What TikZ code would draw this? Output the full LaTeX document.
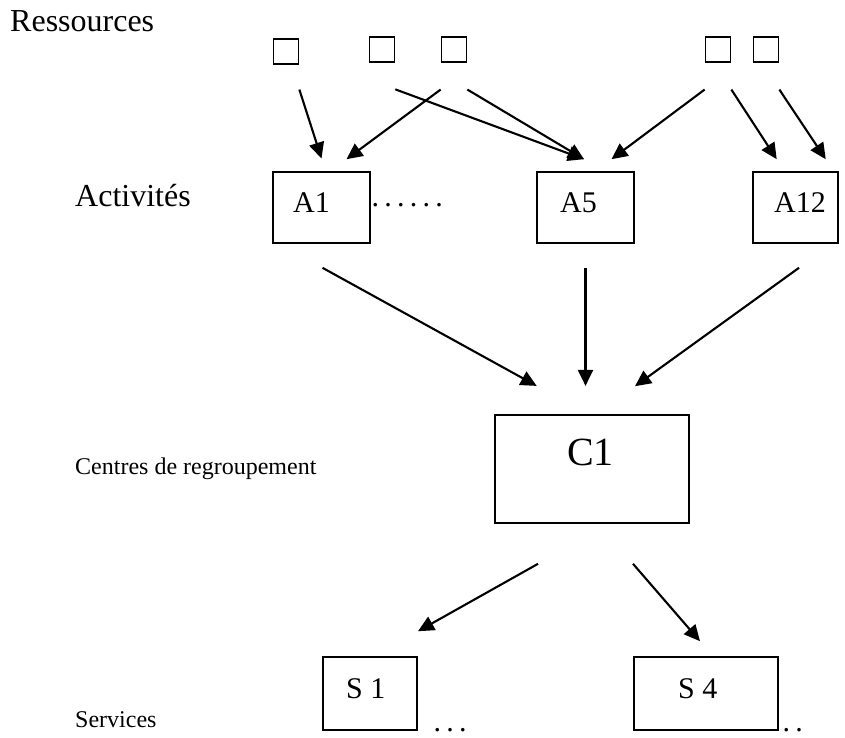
\documentclass[tikz,border=0pt]{standalone}
\usepackage{fontspec}
\setmainfont{Liberation Serif}
\usetikzlibrary{arrows.meta}
\newcommand\dotsgap{\kern5.3pt}
\begin{document}
\begin{tikzpicture}[x=1pt,y=-1pt,
  res/.style={draw,line width=1.7pt,minimum size=25pt,inner sep=0pt},
  box/.style={draw,line width=1.6pt,inner sep=0pt},
  txt/.style={inner sep=0pt,anchor=base west},
  big/.style={font=\fontsize{32}{38}\selectfont},
  mid/.style={font=\fontsize{30}{36}\selectfont},
  small/.style={font=\fontsize{24}{29}\selectfont},
  huge/.style={font=\fontsize{40}{48}\selectfont},
  flow/.style={line width=2.1pt,-{Triangle[length=16pt,width=15pt]}}
]
\useasboundingbox (0,0) rectangle (845,737);

% level captions
\node[txt,big]   (lres) at (10,31)    {Ressources};
\node[txt,big]   (lact) at (75,206.7) {Activités};
\node[txt,small] (lcen) at (75,474)   {Centres de regroupement};
\node[txt,small] (lser) at (75,727)   {Services};

% resources
\node[res] (r1) at (286,51.5) {};
\node[res] (r2) at (382,49.5) {};
\node[res] (r3) at (454,49.5) {};
\node[res] (r4) at (718,49.5) {};
\node[res] (r5) at (766,49.5) {};

% activities
\node[box,minimum width=97pt,minimum height=71pt] (A1)  at (321.5,207.5) {};
\node[box,minimum width=97pt,minimum height=71pt] (A5)  at (585.5,207.5) {};
\node[box,minimum width=85pt,minimum height=71pt] (A12) at (795.5,207.5) {};
\node[txt,mid] (A1t)  at (293,212) {A1};
\node[txt,mid] (A5t)  at (560,212) {A5};
\node[txt,mid] (A12t) at (774,212) {A12};
\node[txt,mid] (Adots) at (371.3,206) {.\dotsgap.\dotsgap.\dotsgap.\dotsgap.\dotsgap.};

% grouping centre
\node[box,minimum width=194pt,minimum height=108pt] (C1) at (592,469) {};
\node[txt,huge] (C1t) at (567,465) {C1};

% services
\node[box,minimum width=94pt,minimum height=73pt]  (S1) at (370,693.5) {};
\node[box,minimum width=144pt,minimum height=73pt] (S4) at (706,693.5) {};
\node[txt,mid] (S1t) at (346,698) {S 1};
\node[txt,mid] (S4t) at (678,698) {S 4};
\node[txt,mid] (S1d) at (433.3,731.5) {.\dotsgap.\dotsgap.};
\node[txt,mid] (S4d) at (782.3,731.5) {.\dotsgap.};

% resources -> activities
\draw[flow] ([yshift=-24.7]r1.south east) -- ([yshift=12.7]A1.north);
\draw[flow] ([yshift=-26.7]r3.south west) -- ([xshift=25,yshift=12]A1.north);
\draw[flow] ([yshift=-26.5]r2.south east) -- ([xshift=-1.5,yshift=12]A5.north);
\draw[flow] ([yshift=-26.7]r3.south east) -- ([xshift=-1.5,yshift=12]A5.north);
\draw[flow] ([yshift=-26.7]r4.south west) -- ([xshift=26,yshift=12]A5.north);
\draw[flow] ([yshift=-26.7]r4.south east) -- ([xshift=-18.8,yshift=12]A12.north);
\draw[flow] ([yshift=-26.7]r5.south east) -- ([xshift=30.2,yshift=12]A12.north);

% activities -> centre
\draw[flow] ([xshift=1,yshift=-24]A1.south)    -- ([xshift=-55.3,yshift=28.3]C1.north);
\draw[flow] ([yshift=-24]A5.south)             -- ([xshift=-6.5,yshift=28.3]C1.north);
\draw[flow] ([xshift=3.5,yshift=-24]A12.south) -- ([xshift=43,yshift=28]C1.north);

% centre -> services
\draw[flow] ([xshift=-54,yshift=-40]C1.south) -- ([xshift=48,yshift=25]S1.north);
\draw[flow] ([xshift=41,yshift=-40]C1.south)  -- ([xshift=-6,yshift=15]S4.north);
\end{tikzpicture}
\end{document}
